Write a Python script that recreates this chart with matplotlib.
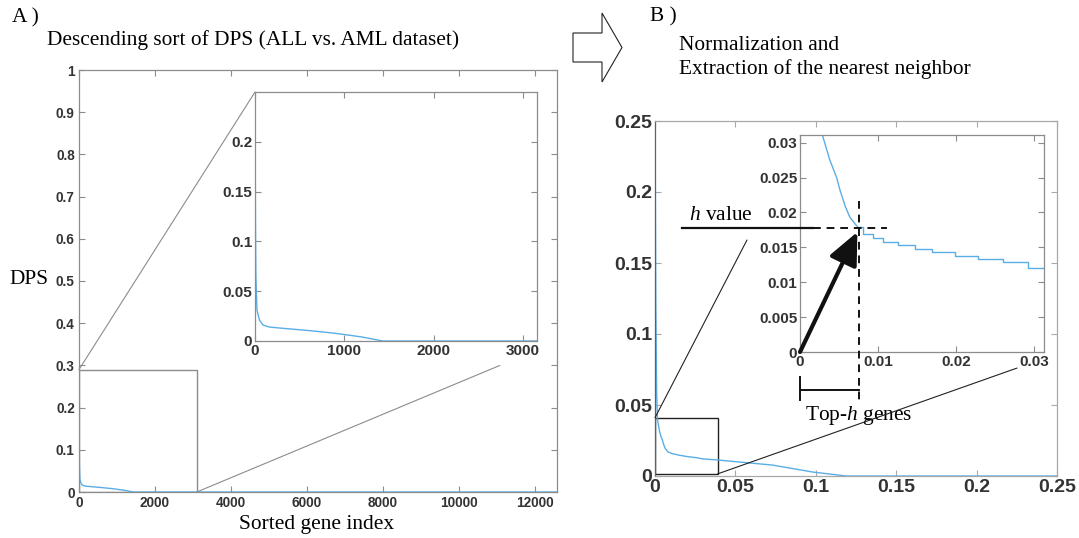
import matplotlib
matplotlib.use('Agg')
import matplotlib.pyplot as plt
from matplotlib.patches import Rectangle, Polygon, ConnectionPatch

# --- Data ---
# A) descending sort of DPS
dps_index = [0, 5, 10, 22, 50, 90, 160, 280, 600, 873, 1000, 1200, 1430, 12582]
dps_value = [0.26, 0.12, 0.064, 0.031, 0.021, 0.016, 0.014, 0.013, 0.0105,
             0.008, 0.0065, 0.004, 0.0, 0.0]

# B) normalized curve
norm_x = [0, 0.0005, 0.001, 0.0015, 0.0029, 0.0038, 0.0047, 0.0051, 0.0058,
          0.0064, 0.0074, 0.0081, 0.0094, 0.0106, 0.0126, 0.0147, 0.0169,
          0.0199, 0.0228, 0.026, 0.0292, 0.0386, 0.073, 0.098, 0.119, 0.25]
norm_y = [0.26, 0.12, 0.06, 0.04, 0.031, 0.0276, 0.025, 0.0233, 0.0209,
          0.0193, 0.0179, 0.0169, 0.0164, 0.0157, 0.0153, 0.0147, 0.0143,
          0.0137, 0.0133, 0.0129, 0.0121, 0.0113, 0.0077, 0.0028, 0.0, 0.0]
steep_end = 11  # points before this index form the smooth steep part

# h value (nearest neighbour point)
h_x = 0.00756
h_y = 0.0177

a_xticks = [0, 2000, 4000, 6000, 8000, 10000, 12000]
a_yticks = [0, 0.1, 0.2, 0.3, 0.4, 0.5, 0.6, 0.7, 0.8, 0.9, 1]
a_ylabels = ['0', '0.1', '0.2', '0.3', '0.4', '0.5', '0.6', '0.7', '0.8', '0.9', '1']
ai_xticks = [0, 1000, 2000, 3000]
ai_yticks = [0, 0.05, 0.1, 0.15, 0.2]
ai_ylabels = ['0', '0.05', '0.1', '0.15', '0.2']
b_ticks = [0, 0.05, 0.1, 0.15, 0.2, 0.25]
b_labels = ['0', '0.05', '0.1', '0.15', '0.2', '0.25']
bi_xticks = [0, 0.01, 0.02, 0.03]
bi_xlabels = ['0', '0.01', '0.02', '0.03']
bi_yticks = [0, 0.005, 0.01, 0.015, 0.02, 0.025, 0.03]
bi_ylabels = ['0', '0.005', '0.01', '0.015', '0.02', '0.025', '0.03']

# --- Style ---
plt.rcParams['mathtext.fontset'] = 'custom'
plt.rcParams['mathtext.rm'] = 'Liberation Serif'
plt.rcParams['mathtext.it'] = 'Liberation Serif:italic'

W, H = 1079, 538
CURVE = '#5aaee6'
GREY = '#8c8c8c'
TICKC = '#333333'
SERIF = 'Liberation Serif'
FS = 15.4


def fx(x):
    return x / W


def fy(y):
    return 1 - y / H


def box(l, t, r, b):
    return [fx(l), fy(b), (r - l) / W, (b - t) / H]


def style_axes(ax, size, edge=GREY, pad=3):
    for s in ax.spines.values():
        s.set_color(edge)
        s.set_linewidth(0.9)
    ax.tick_params(direction='in', length=4, width=0.8, color=edge,
                   top=True, right=True, labelsize=size, labelcolor=TICKC, pad=pad)
    for lab in ax.get_xticklabels() + ax.get_yticklabels():
        lab.set_fontfamily('Liberation Sans')
        lab.set_fontweight('bold')


fig = plt.figure(figsize=(W / 100, H / 100), dpi=100)

# ---------------- Panel A ----------------
axA = fig.add_axes(box(79, 70, 557, 492))
axA.plot(dps_index, dps_value, color=CURVE, lw=1)
axA.set_xlim(0, 12582)
axA.set_ylim(0, 1)
axA.set_xticks(a_xticks)
axA.set_xticklabels([str(t) for t in a_xticks])
axA.set_yticks(a_yticks)
axA.set_yticklabels(a_ylabels)
style_axes(axA, 9.8)
axA.add_patch(Rectangle((0, 0), 3100, 0.29, fill=False, ec=GREY, lw=1))

axAi = fig.add_axes(box(255, 92, 537, 341))
axAi.plot(dps_index, dps_value, color=CURVE, lw=1)
axAi.set_xlim(0, 3158)
axAi.set_ylim(0, 0.25)
axAi.set_xticks(ai_xticks)
axAi.set_xticklabels([str(t) for t in ai_xticks])
axAi.set_yticks(ai_yticks)
axAi.set_yticklabels(ai_ylabels)
style_axes(axAi, 11, pad=2)

fig.add_artist(ConnectionPatch((0, 0.29), (0, 0.25), coordsA=axA.transData,
                               coordsB=axAi.transData, color=GREY, lw=0.8))
fig.add_artist(ConnectionPatch((3100, 0), (11080, 0.30), coordsA=axA.transData,
                               coordsB=axA.transData, color=GREY, lw=0.8))

fig.text(fx(12), fy(18), 'A )', family=SERIF, fontsize=FS, va='center', ha='left')
fig.text(fx(47), fy(40), 'Descending sort of DPS (ALL vs. AML dataset)',
         family=SERIF, fontsize=FS, va='center', ha='left')
fig.text(fx(9), fy(279), 'DPS', family=SERIF, fontsize=FS, va='center', ha='left')
fig.text(fx(317), fy(524), 'Sorted gene index', family=SERIF, fontsize=FS,
         va='center', ha='center')

# block arrow between panels
arrow_px = [(573, 33), (602, 33), (602, 13), (622, 47.5), (602, 82), (602, 62), (573, 62)]
fig.add_artist(Polygon([(fx(x), fy(y)) for x, y in arrow_px], closed=True,
                       transform=fig.transFigure, fc='white', ec='#222222', lw=0.8))

# ---------------- Panel B ----------------
axB = fig.add_axes(box(655, 121, 1057, 476))
axB.plot(norm_x, norm_y, color=CURVE, lw=1)
axB.set_xlim(0, 0.25)
axB.set_ylim(0, 0.25)
axB.set_xticks(b_ticks)
axB.set_xticklabels(b_labels)
axB.set_yticks(b_ticks)
axB.set_yticklabels(b_labels)
style_axes(axB, 14, edge='#a8a8a8', pad=2)
axB.spines['left'].set_color('#3d6b8f')
axB.add_patch(Rectangle((0, 0.0015), 0.039, 0.0395, fill=False, ec='#222222', lw=1))

axBi = fig.add_axes(box(800, 135, 1044, 352))
axBi.plot(norm_x[:steep_end], norm_y[:steep_end], color=CURVE, lw=1)
axBi.plot(norm_x[steep_end - 1:], norm_y[steep_end - 1:], color=CURVE, lw=1,
          drawstyle='steps-post')
axBi.set_xlim(0, 0.0313)
axBi.set_ylim(0, 0.0311)
axBi.set_xticks(bi_xticks)
axBi.set_xticklabels(bi_xlabels)
axBi.set_yticks(bi_yticks)
axBi.set_yticklabels(bi_ylabels)
style_axes(axBi, 11, pad=2)

# connector lines to the inset
fig.add_artist(ConnectionPatch((0, 0.041), (0.0572, 0.1662), coordsA=axB.transData,
                               coordsB=axB.transData, color='#222222', lw=0.8))
fig.add_artist(ConnectionPatch((0.039, 0.0015), (0.2251, 0.076), coordsA=axB.transData,
                               coordsB=axB.transData, color='#222222', lw=0.8))

# h value crosshair
axBi.plot([-0.0151, 0.0017], [h_y, h_y], color='#111111', lw=1.6, clip_on=False, zorder=5)
axBi.plot([0.0017, 0.0112], [h_y, h_y], color='#111111', lw=1.4, ls=(0, (4, 3)),
          clip_on=False, zorder=5)
axBi.plot([h_x, h_x], [0.0217, -0.0069], color='#111111', lw=1.4, ls=(0, (4, 3)),
          clip_on=False, zorder=5)
axBi.text(-0.0101, 0.0196, '$h$ value', family=SERIF, fontsize=FS,
          ha='center', va='center', clip_on=False)

# Top-h bar
axBi.plot([0, h_x], [-0.0054, -0.0054], color='#111111', lw=1.4, clip_on=False, zorder=5)
axBi.plot([0, 0], [-0.0036, -0.0069], color='#111111', lw=1.4, clip_on=False, zorder=5)
axBi.text(h_x, -0.0091, 'Top-$h$ genes', family=SERIF, fontsize=FS, ha='center',
          va='center', clip_on=False, zorder=6,
          bbox=dict(fc='white', ec='none', pad=1))

# thick arrow from origin to h point
axBi.annotate('', xy=(h_x - 0.0002, h_y - 0.0005), xytext=(0, 0),
              arrowprops=dict(arrowstyle='-|>,head_length=1.1,head_width=0.5',
                              lw=3, color='#111111', mutation_scale=18,
                              shrinkA=0, shrinkB=0))

fig.text(fx(650), fy(17), 'B )', family=SERIF, fontsize=FS, va='center', ha='left')
fig.text(fx(679), fy(45), 'Normalization and', family=SERIF, fontsize=FS,
         va='center', ha='left')
fig.text(fx(679), fy(69), 'Extraction of the nearest neighbor', family=SERIF,
         fontsize=FS, va='center', ha='left')

fig.savefig('out.png', dpi=100)
